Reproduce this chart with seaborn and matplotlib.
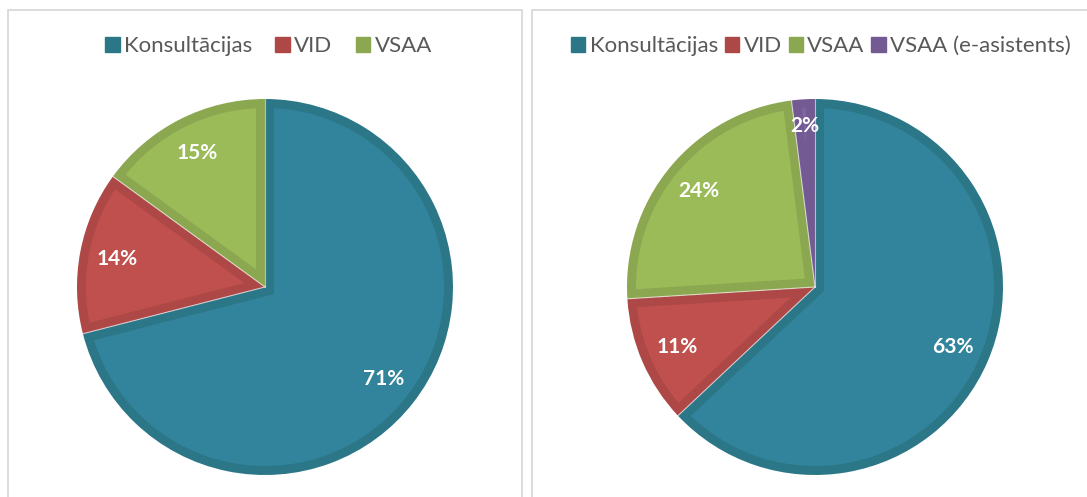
import matplotlib
matplotlib.use("Agg")
import numpy as np
import matplotlib.pyplot as plt
import seaborn as sns
from matplotlib.patches import Rectangle, Patch, Polygon

# data
labels_left = ["Konsultācijas", "VID", "VSAA"]
values_left = [71, 14, 15]
labels_right = ["Konsultācijas", "VID", "VSAA", "VSAA (e-asistents)"]
values_right = [63, 11, 24, 2]

fill_colors = ["#31849B", "#C0504D", "#9BBB59", "#8064A2"]
edge_colors = ["#2B7788", "#AD4846", "#8BA74F", "#735A92"]

sns.set_theme(style="white")
plt.rcParams["font.family"] = ["Lato", "DejaVu Sans"]

W, H = 1087, 497
fig = plt.figure(figsize=(W / 100, H / 100), dpi=100)
fig.patch.set_facecolor("white")

# panel frames
for x0, x1 in [(8, 522), (532, 1100)]:
    fig.patches.append(Rectangle((x0 / W, -0.1), (x1 - x0) / W, (H - 10) / H + 0.1,
                                 transform=fig.transFigure, fill=False,
                                 edgecolor="#D9D9D9", linewidth=1.3))


def inset_points(w, d):
    # lighter inner part of a wedge, inset by d from every side
    a1, a2 = np.radians(w.theta1), np.radians(w.theta2)
    half = (a2 - a1) / 2
    rho = w.r - d
    delta = np.arcsin(d / rho)
    if a2 - a1 <= 2 * delta:
        return None
    mid = a1 + half
    s = d / np.sin(half)
    apex = (s * np.cos(mid), s * np.sin(mid))
    t = np.linspace(a1 + delta, a2 - delta, 120)
    arc = np.column_stack([rho * np.cos(t), rho * np.sin(t)])
    return np.vstack([apex, arc])


def draw_pie(cx, cy, r, values, labels, legend_x, colspacing):
    ax = fig.add_axes([(cx - r) / W, (H - cy - r) / H, 2 * r / W, 2 * r / H])
    n = len(values)
    wedges, texts, autotexts = ax.pie(
        values, colors=edge_colors[:n], startangle=90, counterclock=False,
        autopct="%1.0f%%", pctdistance=0.8, radius=1,
        wedgeprops=dict(linewidth=0),
        textprops=dict(color="white", fontsize=15, fontweight="bold"))
    for w, fc in zip(wedges, fill_colors[:n]):
        pts = inset_points(w, 9 / r)
        if pts is not None:
            ax.add_patch(Polygon(pts, closed=True, facecolor=fc, edgecolor="none", zorder=1.5))
    for t, v in zip(autotexts, values):
        t.set_zorder(5)
        if v < 5:
            # tiny slice: label sits closer to the rim
            x, y = t.get_position()
            t.set_position((x * 1.07, y * 1.07))
    # thin light separators between slices
    for w in wedges:
        for a in (w.theta1, w.theta2):
            ang = np.radians(a)
            ax.plot([0, np.cos(ang)], [0, np.sin(ang)], color="white",
                    alpha=0.35, linewidth=0.8, zorder=2)
    ax.set_xlim(-1, 1)
    ax.set_ylim(-1, 1)
    ax.set_aspect("equal")
    ax.axis("off")

    handles = [Patch(facecolor=c, edgecolor=c) for c in edge_colors[:n]]
    fig.legend(handles, labels, loc="center", bbox_to_anchor=(legend_x / W, 1 - 46 / H),
               ncol=n, frameon=False, fontsize=16, labelcolor="#595959",
               handlelength=0.65, handleheight=0.65, handletextpad=0.2,
               columnspacing=colspacing, borderaxespad=0, borderpad=0)


draw_pie(265, 287, 188, values_left, labels_left, 268.5, 1.04)
draw_pie(815, 287, 188, values_right, labels_right, 821, 0.3)

fig.savefig("out.png", dpi=100)
